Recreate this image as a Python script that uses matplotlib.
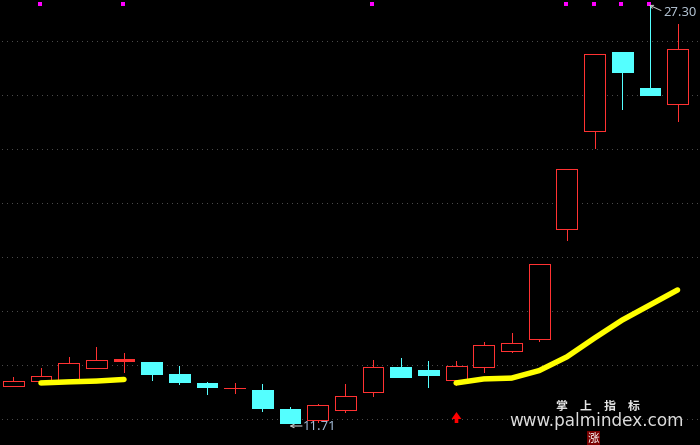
import matplotlib
matplotlib.use("Agg")
import matplotlib.pyplot as plt
from matplotlib.path import Path
import numpy as np

opens  = [13.10,13.28,13.27,13.77,14.02,13.98,13.53,13.20,13.00,12.94,12.23,11.82,12.19,12.87,13.79,13.68,13.31,13.80,14.40,14.85,18.93,22.59,25.51,24.17,23.59]
closes = [13.27,13.45,13.93,14.04,14.08,13.53,13.24,13.05,13.00,12.27,11.71,12.38,12.71,13.79,13.42,13.50,13.83,14.61,14.68,17.63,21.16,25.44,24.77,23.91,25.62]
highs  = [13.42,13.77,14.17,14.54,14.31,13.98,13.83,13.24,13.20,13.16,12.31,12.42,13.16,14.05,14.13,14.02,14.02,14.72,15.06,17.63,21.16,25.44,25.51,27.30,26.56]
lows   = [13.10,13.28,13.27,13.77,13.62,13.31,13.16,12.79,12.83,12.16,11.71,11.75,12.12,12.71,13.42,13.05,13.12,13.61,14.35,14.76,18.52,21.94,23.39,23.91,22.96]
ma_a_idx = [1,2,3,4]
ma_a = [13.20,13.24,13.27,13.33]
ma_b_idx = [16,17,18,19,20,21,22,23,24]
ma_b = [13.20,13.35,13.38,13.66,14.17,14.87,15.54,16.10,16.66]
marker_idx = [1,4,13,20,21,22,23]
grid_levels = [25.91,23.90,21.89,19.88,17.87,15.86,13.85,11.84]
arrow_idx = [16]
arrow_level = [11.94]
high_label = "27.30"
low_label = "11.71"
brand_chars = ["掌", "上", "指", "标"]

RED = "#ff3232"
CYAN = "#54ffff"
PX = 0.72

fig = plt.figure(figsize=(7, 4.45), dpi=100, facecolor="black")
ax = fig.add_axes([0, 0, 1, 1], facecolor="black")
ax.set_xlim(-0.48, 24.81)
ax.set_ylim(10.891, 27.449)
ax.axis("off")

for g in grid_levels:
    ax.plot([-0.41, 24.8], [g, g], color="#4a4a4a", lw=PX, ls=(0, (1, 4.5)), zorder=1, antialiased=False)

x = np.arange(len(opens))
w = 0.75
for i in x:
    o, c, h, l = opens[i], closes[i], highs[i], lows[i]
    col = RED if c >= o else CYAN
    top, bot = max(o, c), min(o, c)
    ax.plot([i, i], [top, h], color=col, lw=PX*0.9, zorder=2, solid_capstyle="butt", antialiased=False)
    ax.plot([i, i], [l, bot], color=col, lw=PX*0.9, zorder=2, solid_capstyle="butt", antialiased=False)
    thin = top - bot < 0.1
    face = col if (c < o or thin) else "black"
    ax.bar(i, top-bot, w, bot, facecolor=face, edgecolor=col, lw=PX*0.9, zorder=3, antialiased=False)

for xs, ys in ((ma_a_idx, ma_a), (ma_b_idx, ma_b)):
    ax.plot(xs, ys, color="#ffff00", lw=PX*5.5, zorder=5, solid_capstyle="round", solid_joinstyle="round")

ax.scatter(np.array(marker_idx)-0.03, [27.29]*len(marker_idx), marker="s", s=(3.6*PX)**2,
           color="#ff00ff", linewidths=0, zorder=6)

up_arrow = Path([(-0.33,-1),(0.33,-1),(0.33,-0.27),(0.9,-0.27),(0,1),(-0.9,-0.27),(-0.33,-0.27),(-0.33,-1),(-0.33,-1)], closed=True)
ax.scatter(arrow_idx, arrow_level, marker=up_arrow, s=(11*PX)**2, color="#ff0000", linewidths=0, zorder=6)

def P(px, py):
    return (px/700, 1-py/445)

T = ax.transAxes
ax.text(*P(663, 13), high_label, transform=T, color="#b4c4d4", fontsize=9.4, va="center", ha="left", family="Noto Sans")
ax.text(*P(303, 426.5), low_label, transform=T, color="#a4bcd8", fontsize=9.4, va="center", ha="left", family="Noto Sans", zorder=8)
ax.annotate("", xy=P(649, 5), xytext=P(661, 10.5), xycoords=T, textcoords=T,
            arrowprops=dict(arrowstyle="->", color="#c8c8c8", lw=0.7, mutation_scale=6, shrinkA=0, shrinkB=0), zorder=8)
ax.annotate("", xy=P(289.5, 426), xytext=P(302, 426), xycoords=T, textcoords=T,
            arrowprops=dict(arrowstyle="->", color="#c8c8c8", lw=0.8, mutation_scale=6, shrinkA=0, shrinkB=0), zorder=8)

cjk = ["Noto Sans CJK SC", "DejaVu Sans"]
for ch, cx in zip(brand_chars, [561.7, 585, 610, 633.5]):
    ax.text(*P(cx, 406.5), ch, transform=T, color="#e6e6e6", fontsize=8.6, fontweight="bold",
            ha="center", va="center", family=cjk)
ax.text(*P(597, 421), "www.palmindex.com", transform=T, color="#dcdcdc", fontsize=12.2,
        ha="center", va="center", family="DejaVu Sans")
ax.text(*P(593.5, 438.5), "涨", transform=T, color="white", fontsize=8.4, ha="center", va="center", family=cjk,
        bbox=dict(boxstyle="square,pad=0.1", facecolor="#7a0000", edgecolor="none"))

fig.savefig("out.png", dpi=100, facecolor="black")
